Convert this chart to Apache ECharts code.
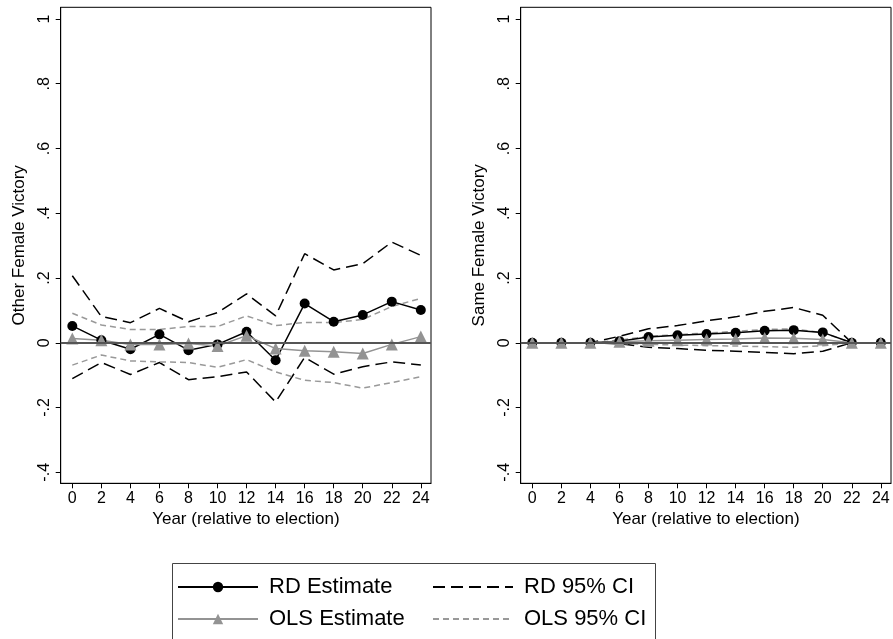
<!DOCTYPE html>
<html>
<head>
<meta charset="utf-8">
<script src="https://cdn.jsdelivr.net/npm/echarts@6/dist/echarts.min.js"></script>
<style>
  html, body { margin: 0; padding: 0; background: #fff; }
  #chart { width: 893px; height: 639px; }
</style>
</head>
<body>
<div id="chart"></div>
<script>
// years relative to election
var years = [0, 2, 4, 6, 8, 10, 12, 14, 16, 18, 20, 22, 24];
var yTicks = [-0.4, -0.2, 0, 0.2, 0.4, 0.6, 0.8, 1];

// left panel: Other Female Victory
var otherRD    = [0.052, 0.008, -0.020, 0.026, -0.023, -0.005, 0.034, -0.054, 0.121, 0.065, 0.086, 0.127, 0.101];
var otherRDhi  = [0.207, 0.081, 0.062, 0.106, 0.065, 0.093, 0.151, 0.083, 0.275, 0.225, 0.244, 0.311, 0.270];
var otherRDlo  = [-0.111, -0.061, -0.098, -0.061, -0.114, -0.105, -0.090, -0.183, -0.045, -0.097, -0.074, -0.059, -0.069];
var otherOLS   = [0.013, 0.008, -0.005, -0.005, -0.002, -0.010, 0.022, -0.018, -0.025, -0.028, -0.033, -0.005, 0.019];
var otherOLShi = [0.091, 0.055, 0.041, 0.041, 0.050, 0.050, 0.083, 0.053, 0.063, 0.062, 0.072, 0.112, 0.137];
var otherOLSlo = [-0.069, -0.038, -0.056, -0.059, -0.061, -0.076, -0.052, -0.090, -0.116, -0.123, -0.140, -0.123, -0.105];

// right panel: Same Female Victory
var sameRD    = [0, 0, 0, 0.005, 0.018, 0.023, 0.027, 0.031, 0.037, 0.039, 0.032, 0, 0];
var sameRDhi  = [0, 0, 0, 0.020, 0.043, 0.053, 0.068, 0.080, 0.097, 0.109, 0.085, 0, 0];
var sameRDlo  = [0, 0, 0, -0.003, -0.014, -0.018, -0.023, -0.026, -0.030, -0.034, -0.026, 0, 0];
var sameOLS   = [0, 0, 0, 0.003, 0.006, 0.008, 0.010, 0.012, 0.015, 0.014, 0.010, 0, 0];
var sameOLShi = [0, 0, 0, 0.008, 0.020, 0.025, 0.030, 0.035, 0.041, 0.043, 0.031, 0, 0];
var sameOLSlo = [0, 0, 0, -0.002, -0.005, -0.007, -0.009, -0.010, -0.012, -0.014, -0.009, 0, 0];

var FONT = '"Liberation Sans", Arial, sans-serif';
var GRAY = '#939393';

function pairs(vals) {
  return years.map(function (y, i) { return [y, vals[i]]; });
}
function fmtY(v) {
  var s = String(Math.round(v * 10) / 10);
  return s.replace('0.', '.');
}

function xAxis(idx) {
  return {
    gridIndex: idx, type: 'value', min: -0.8, max: 24.7,
    name: 'Year (relative to election)', nameLocation: 'middle', nameGap: 18,
    nameTextStyle: { fontFamily: FONT, fontSize: 17, color: '#000' },
    axisLine: { show: true, onZero: false, lineStyle: { color: '#000', width: 1 } },
    axisTick: { show: true, length: 5, customValues: years, lineStyle: { color: '#000' } },
    axisLabel: { customValues: years, margin: 7, fontFamily: FONT, fontSize: 16, color: '#000' },
    splitLine: { show: false }
  };
}
function yAxis(idx, title) {
  return {
    gridIndex: idx, type: 'value', min: -0.434, max: 1.036,
    name: title, nameLocation: 'middle', nameGap: 33, nameRotate: 90,
    nameTextStyle: { fontFamily: FONT, fontSize: 17, color: '#000' },
    axisLine: { show: true, onZero: false, lineStyle: { color: '#000', width: 1 } },
    axisTick: { show: true, length: 5, customValues: yTicks, lineStyle: { color: '#000' } },
    axisLabel: { customValues: yTicks, rotate: 90, margin: 8, fontFamily: FONT, fontSize: 16, color: '#000', formatter: fmtY },
    splitLine: { show: false }
  };
}

function panel(idx, rd, rdhi, rdlo, ols, olshi, olslo) {
  var base = { type: 'line', xAxisIndex: idx, yAxisIndex: idx, animation: false, silent: true };
  function s(name, data, extra) {
    var o = Object.assign({}, base, { name: name, data: pairs(data) });
    return Object.assign(o, extra);
  }
  var rdCI = { symbol: 'none', lineStyle: { color: '#000', width: 1.5, type: [12, 6] }, itemStyle: { color: '#000' } };
  var olsCI = { symbol: 'none', lineStyle: { color: '#999', width: 1.5, type: [6, 4] }, itemStyle: { color: '#999' } };
  return [
    s('RD 95% CI', rdhi, Object.assign({}, rdCI, {
      markLine: {
        silent: true, symbol: 'none', label: { show: false },
        lineStyle: { color: '#555', width: 2, type: 'solid' },
        data: [{ yAxis: 0 }]
      }
    })),
    s('RD 95% CI', rdlo, rdCI),
    s('OLS 95% CI', olshi, olsCI),
    s('OLS 95% CI', olslo, olsCI),
    s('RD Estimate', rd, { symbol: 'circle', symbolSize: 10, lineStyle: { color: '#000', width: 1.5 }, itemStyle: { color: '#000' } }),
    s('OLS Estimate', ols, { symbol: 'triangle', symbolSize: 12, lineStyle: { color: GRAY, width: 1.5 }, itemStyle: { color: GRAY } })
  ];
}

var chart = echarts.init(document.getElementById('chart'));
var legendBase = {
  orient: 'vertical', top: 576, padding: 0, itemWidth: 80, itemHeight: 13, itemGap: 10,
  selectedMode: false,
  textStyle: { fontFamily: FONT, fontSize: 22, lineHeight: 22, color: '#000', padding: [0, 0, 0, 6] }
};
chart.setOption({
  backgroundColor: '#fff',
  animation: false,
  grid: [
    { left: 60.7, top: 7.3, width: 370.3, height: 476, show: true, borderColor: '#000', borderWidth: 1, backgroundColor: '#fff' },
    { left: 520.7, top: 7.3, width: 370.3, height: 476, show: true, borderColor: '#000', borderWidth: 1, backgroundColor: '#fff' }
  ],
  xAxis: [xAxis(0), xAxis(1)],
  yAxis: [yAxis(0, 'Other Female Victory'), yAxis(1, 'Same Female Victory')],
  legend: [
    Object.assign({}, legendBase, { left: 177, data: ['RD Estimate', 'OLS Estimate'] }),
    Object.assign({}, legendBase, {
      left: 432,
      data: [
        { name: 'RD 95% CI', itemStyle: { opacity: 0 } },
        { name: 'OLS 95% CI', itemStyle: { opacity: 0 } }
      ]
    })
  ],
  graphic: [{
    type: 'rect', left: 170, top: 561, silent: true,
    shape: { width: 483, height: 100 },
    style: { fill: null, stroke: '#444', lineWidth: 1 }
  }],
  series: [].concat(
    panel(0, otherRD, otherRDhi, otherRDlo, otherOLS, otherOLShi, otherOLSlo),
    panel(1, sameRD, sameRDhi, sameRDlo, sameOLS, sameOLShi, sameOLSlo)
  )
});
</script>
</body>
</html>
